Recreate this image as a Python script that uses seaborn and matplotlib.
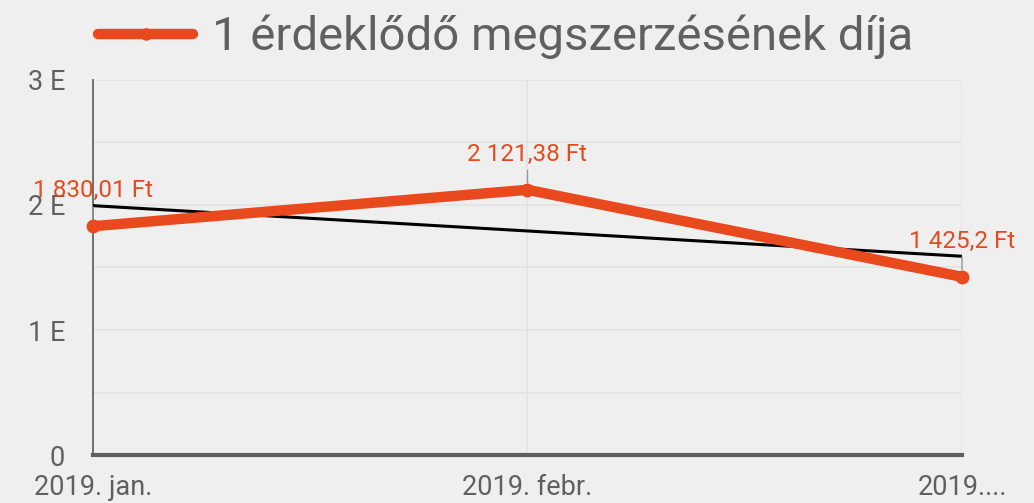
import matplotlib
matplotlib.use("Agg")
import matplotlib.pyplot as plt
import numpy as np
import pandas as pd
import seaborn as sns
from matplotlib.ticker import FixedLocator

MONTHS = ["2019. jan.", "2019. febr.", "2019...."]
COST = [1830.01, 2121.38, 1425.2]
COST_LABELS = ["1 830,01 Ft", "2 121,38 Ft", "1 425,2 Ft"]
Y_TICKS = [0, 1000, 2000, 3000]
Y_TICK_LABELS = ["0", "1 E", "2 E", "3 E"]
SERIES_NAME = "1 érdeklődő megszerzésének díja"

BG = "#efefef"
ORANGE = "#e8491d"
TEXT = "#606060"

sns.set_theme(style="white")
plt.rcParams["font.family"] = ["Roboto", "DejaVu Sans"]

df = pd.DataFrame({"pos": range(len(MONTHS)), "cost": COST})

fig = plt.figure(figsize=(10.34, 5.03), dpi=100, facecolor=BG)
ax = fig.add_axes([0.0899, 0.0954, 0.8405, 0.7456])
ax.set_facecolor(BG)

# grid
ax.yaxis.set_minor_locator(FixedLocator([500, 1500, 2500]))
ax.set_yticks(Y_TICKS)
ax.set_yticklabels(Y_TICK_LABELS)
ax.grid(True, which="both", axis="y", color="#e2e2e2", lw=1.2)
ax.grid(True, axis="x", color="#e2e2e2", lw=1.2)
ax.set_axisbelow(True)

# trend line (linear fit)
sns.regplot(data=df, x="pos", y="cost", ax=ax, scatter=False, ci=None,
            truncate=True, line_kws={"color": "black", "lw": 2.2, "zorder": 3})

sns.lineplot(data=df, x="pos", y="cost", ax=ax, color=ORANGE, lw=7.5,
             marker="o", markersize=10, markeredgewidth=0, label=SERIES_NAME,
             zorder=4, clip_on=False)

for x, y, lab in zip(df["pos"], COST, COST_LABELS):
    ax.annotate(lab, xy=(x, y), xytext=(0, 21), textcoords="offset points",
                ha="center", va="baseline", color=ORANGE, fontsize=17.5,
                arrowprops=dict(arrowstyle="-", color="#999999", lw=1,
                                shrinkA=1, shrinkB=5), zorder=5,
                annotation_clip=False)

ax.set_xlim(0, 2)
ax.set_ylim(0, 3000)
ax.set_xticks(df["pos"])
ax.set_xticklabels(MONTHS)
ax.set_xlabel("")
ax.set_ylabel("")
ax.tick_params(axis="both", length=0, labelsize=19.5, labelcolor=TEXT)
ax.tick_params(axis="y", pad=20)
ax.tick_params(axis="x", pad=14)

for s in ["top", "right"]:
    ax.spines[s].set_visible(False)
ax.spines["left"].set_color("#666666")
ax.spines["left"].set_linewidth(1.3)
ax.spines["bottom"].set_color("#5f5f5f")
ax.spines["bottom"].set_linewidth(3)

ax.get_legend().remove()
handles, labels = ax.get_legend_handles_labels()
leg = fig.legend(handles[-1:], labels[-1:], loc="upper center",
                 bbox_to_anchor=(0.489, 1.055), frameon=False, fontsize=34,
                 handlelength=2.0, handletextpad=0.4, labelcolor=TEXT)
for h in leg.legend_handles:
    h.set_markersize(9)

fig.savefig("out.png", dpi=100, facecolor=BG)
